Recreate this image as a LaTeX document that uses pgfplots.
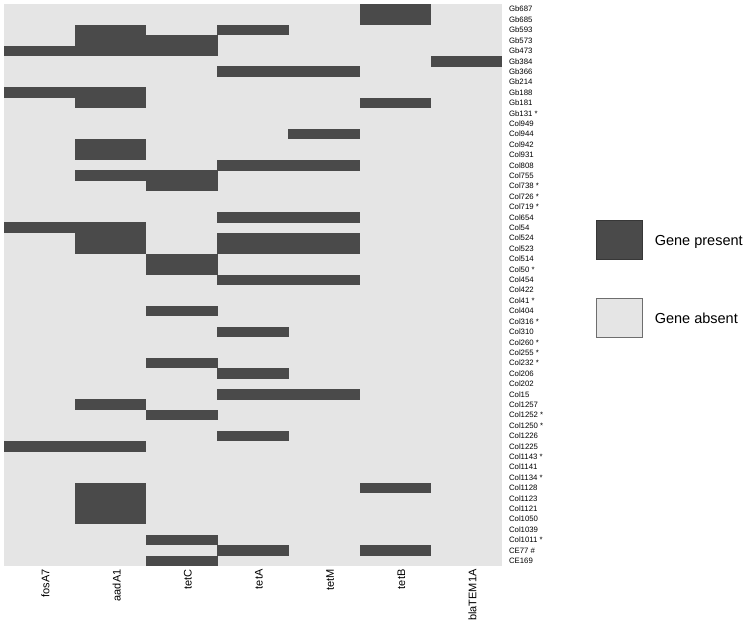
\documentclass[border=0pt]{standalone}
\usepackage{pgfplots}
\pgfplotsset{compat=1.18}
\usepackage{fontspec}
\setmainfont{Liberation Sans}

\definecolor{present}{RGB}{74,74,74}
\definecolor{absent}{RGB}{229,229,229}
\definecolor{presentedge}{RGB}{55,55,55}
\definecolor{absentedge}{RGB}{110,110,110}

% one heatmap cell: 498pt/7 wide, 562pt/54 high (a hair larger so stacked cells do not show seams)
\pgfdeclareplotmark{cell}{%
  \pgfpathrectangle{\pgfpoint{-35.65pt}{-5.3pt}}{\pgfpoint{71.3pt}{10.6pt}}%
  \pgfusepathqfill}
\pgfplotsset{gene/.style={only marks, mark=cell, color=present, forget plot}}

\begin{document}
\begin{tikzpicture}
\useasboundingbox (0,0) rectangle (749pt,625pt);
\begin{axis}[
  at={(4pt,59pt)}, anchor=south west,
  width=498pt, height=562pt, scale only axis,
  xmin=-0.5, xmax=6.5, ymin=-0.5, ymax=53.5,
  enlargelimits=false, clip=true,
  axis background/.style={fill=absent},
  axis x line*=bottom, axis y line*=right,
  axis line style={draw=none},
  major tick length=0pt,
  xtick={0,...,6},
  xticklabels={fosA7,aadA1,tetC,tetA,tetM,tetB,blaTEM1A},
  xticklabel style={rotate=90, anchor=east, yshift=-6pt, font=\fontsize{11}{13}\selectfont},
  ytick={0,...,53},
  yticklabels={CE169,CE77 \#,Col1011 *,Col1039,Col1050,Col1121,Col1123,Col1128,Col1134 *,Col1141,
    Col1143 *,Col1225,Col1226,Col1250 *,Col1252 *,Col1257,Col15,Col202,Col206,Col232 *,
    Col255 *,Col260 *,Col310,Col316 *,Col404,Col41 *,Col422,Col454,Col50 *,Col514,
    Col523,Col524,Col54,Col654,Col719 *,Col726 *,Col738 *,Col755,Col808,Col931,
    Col942,Col944,Col949,Gb131 *,Gb181,Gb188,Gb214,Gb366,Gb384,Gb473,
    Gb573,Gb593,Gb685,Gb687},
  yticklabel style={anchor=west, xshift=3.5pt, font=\fontsize{7.8}{9}\selectfont},
  legend cell align=left,
  legend image code/.code={\draw[#1] (0pt,-18pt) rectangle (46pt,21pt);},
  legend style={at={(1.1888,0.6157)}, anchor=north west, draw=none, fill=none,
    inner sep=0pt, row sep=38pt, column sep=12pt,
    font=\fontsize{14.5}{17}\selectfont, nodes={inner sep=0pt}},
]
% rows where each gene is present (row 0 = CE169 at the bottom, row 53 = Gb687 at the top)
\addplot[gene] table[x expr=0, y=row] {
row
49
45
32
11
};
\addplot[gene] table[x expr=1, y=row] {
row
51
50
49
45
44
40
39
37
32
31
30
15
11
7
6
5
4
};
\addplot[gene] table[x expr=2, y=row] {
row
50
49
37
36
29
28
24
19
14
2
0
};
\addplot[gene] table[x expr=3, y=row] {
row
51
47
38
33
31
30
27
22
18
16
12
1
};
\addplot[gene] table[x expr=4, y=row] {
row
47
41
38
33
31
30
27
16
};
\addplot[gene] table[x expr=5, y=row] {
row
53
52
44
7
1
};
\addplot[gene] table[x expr=6, y=row] {
row
48
};
\addlegendimage{fill=present, draw=presentedge, line width=0.6pt}
\addlegendentry{Gene present}
\addlegendimage{fill=absent, draw=absentedge, line width=0.6pt}
\addlegendentry{Gene absent}
\end{axis}
\end{tikzpicture}
\end{document}
